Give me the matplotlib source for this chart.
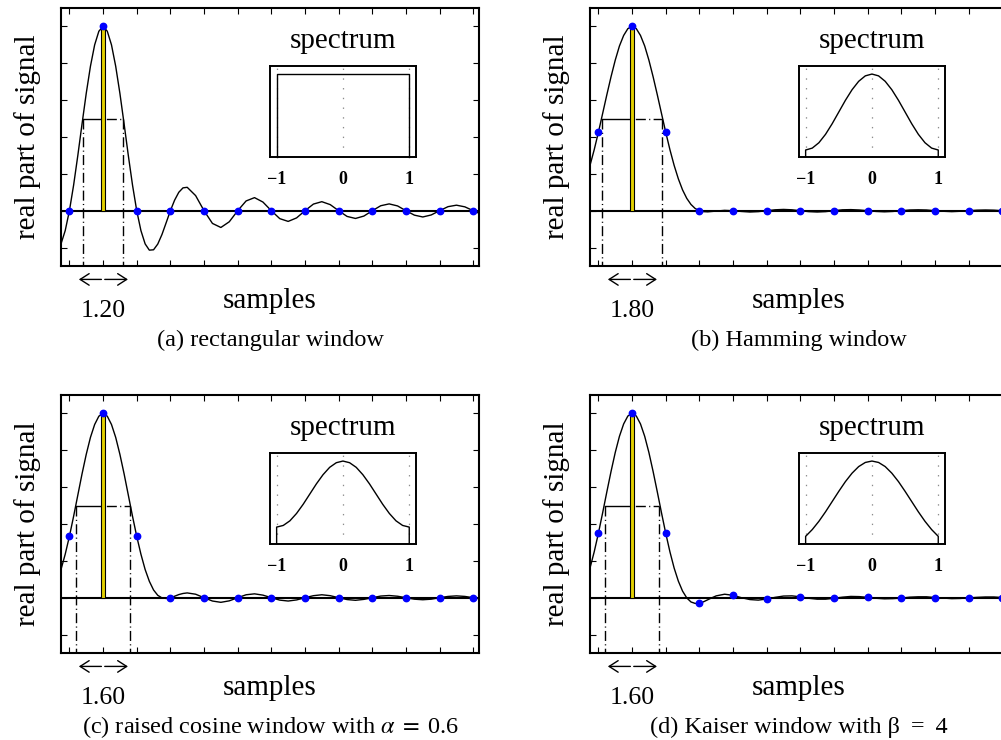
"""Windowed sinc pulses: time signal + spectrum inset for four windows."""

import matplotlib

matplotlib.use("Agg")  # headless
import matplotlib.pyplot as plt
from matplotlib.transforms import blended_transform_factory

plt.rcParams["font.family"] = ["Liberation Serif", "DejaVu Serif"]
plt.rcParams["mathtext.fontset"] = "stix"
plt.rcParams["lines.scale_dashes"] = False

# time axis of the drawn curves (in samples)
t = [-1.25, -1.125, -1.0, -0.875, -0.75, -0.625, -0.5, -0.375, -0.25, -0.125,
     0.0, 0.125, 0.25, 0.375, 0.5, 0.625, 0.75, 0.875, 1.0, 1.125, 1.25, 1.375,
     1.5, 1.625, 1.75, 1.875, 2.0, 2.125, 2.25, 2.375, 2.5, 2.75, 3.0, 3.25,
     3.5, 3.75, 4.0, 4.25, 4.5, 4.75, 5.0, 5.25, 5.5, 5.75, 6.0, 6.25, 6.5,
     6.75, 7.0, 7.25, 7.5, 7.75, 8.0, 8.25, 8.5, 8.75, 9.0, 9.25, 9.5, 9.75,
     10.0, 10.25, 10.5, 10.75, 11.0, 11.25]

rect_curve = [-0.180, -0.108, 0.000, 0.139, 0.300, 0.471, 0.637, 0.784, 0.900, 0.974,
              1.000, 0.974, 0.900, 0.784, 0.637, 0.471, 0.300, 0.139, 0.000, -0.108,
              -0.180, -0.214, -0.212, -0.181, -0.129, -0.065, 0.000, 0.057, 0.100, 0.124,
              0.127, 0.082, 0.000, -0.069, -0.091, -0.060, 0.000, 0.053, 0.071, 0.047,
              0.000, -0.043, -0.058, -0.039, 0.000, 0.036, 0.049, 0.033, 0.000, -0.031,
              -0.042, -0.029, 0.000, 0.027, 0.037, 0.026, 0.000, -0.024, -0.034, -0.023,
              0.000, 0.022, 0.030, 0.021, 0.000, -0.020]
hamming_curve = [0.246, 0.331, 0.426, 0.527, 0.629, 0.727, 0.817, 0.894, 0.951, 0.988,
                 1.000, 0.988, 0.951, 0.894, 0.817, 0.727, 0.629, 0.527, 0.426, 0.331,
                 0.246, 0.173, 0.113, 0.067, 0.034, 0.012, 0.000, -0.005, -0.006, -0.004,
                 -0.002, 0.002, 0.000, -0.004, -0.007, -0.005, 0.000, 0.005, 0.007, 0.005,
                 0.000, -0.005, -0.007, -0.005, 0.000, 0.005, 0.006, 0.004, 0.000, -0.004,
                 -0.006, -0.004, 0.000, 0.004, 0.005, 0.004, 0.000, -0.003, -0.005, -0.003,
                 0.000, 0.003, 0.004, 0.003, 0.000, -0.003]
raised_curve = [0.153, 0.236, 0.333, 0.442, 0.557, 0.672, 0.778, 0.870, 0.940, 0.985,
                1.000, 0.985, 0.940, 0.870, 0.778, 0.672, 0.557, 0.442, 0.333, 0.236,
                0.153, 0.089, 0.042, 0.013, -0.001, -0.004, 0.000, 0.008, 0.017, 0.023,
                0.026, 0.019, 0.000, -0.018, -0.025, -0.017, 0.000, 0.016, 0.021, 0.014,
                0.000, -0.013, -0.018, -0.012, 0.000, 0.011, 0.016, 0.011, 0.000, -0.010,
                -0.014, -0.009, 0.000, 0.009, 0.012, 0.008, 0.000, -0.008, -0.011, -0.008,
                0.000, 0.007, 0.010, 0.007, 0.000, -0.007]
kaiser_curve = [0.161, 0.249, 0.350, 0.460, 0.574, 0.685, 0.788, 0.876, 0.943, 0.986,
                1.000, 0.986, 0.943, 0.876, 0.788, 0.685, 0.574, 0.460, 0.350, 0.249,
                0.161, 0.090, 0.036, -0.001, -0.023, -0.031, -0.030, -0.022, -0.011, 0.000,
                0.010, 0.019, 0.013, 0.000, -0.010, -0.013, -0.007, 0.002, 0.009, 0.010,
                0.005, -0.003, -0.008, -0.008, -0.003, 0.003, 0.007, 0.006, 0.002, -0.003,
                -0.006, -0.005, -0.002, 0.003, 0.005, 0.005, 0.001, -0.002, -0.005, -0.004,
                -0.001, 0.002, 0.004, 0.004, 0.001, -0.002]

# sampled values (blue dots)
samples = [-1, 0, 1, 2, 3, 4, 5, 6, 7, 8, 9, 10, 11]
rect_dots = [0.0, 1.0, 0.0, 0.0, 0.0, 0.0, 0.0, 0.0, 0.0, 0.0, 0.0, 0.0, 0.0]
hamming_dots = [0.426, 1.0, 0.426, 0.0, 0.0, 0.0, 0.0, 0.0, 0.0, 0.0, 0.0, 0.0, 0.0]
raised_dots = [0.333, 1.0, 0.333, 0.0, 0.0, 0.0, 0.0, 0.0, 0.0, 0.0, 0.0, 0.0, 0.0]
kaiser_dots = [0.350, 1.0, 0.350, -0.030, 0.013, -0.007, 0.005, -0.003, 0.002,
               -0.002, 0.001, -0.001, 0.001]

# spectrum insets
freq = [-1.0, -0.9, -0.8, -0.7, -0.6, -0.5, -0.4, -0.3, -0.2, -0.1, 0.0,
        0.1, 0.2, 0.3, 0.4, 0.5, 0.6, 0.7, 0.8, 0.9, 1.0]
rect_spec = [1.0] * 21
hamming_spec = [0.080, 0.103, 0.168, 0.270, 0.398, 0.540, 0.682, 0.810, 0.912, 0.978, 1.000,
                0.978, 0.912, 0.810, 0.682, 0.540, 0.398, 0.270, 0.168, 0.103, 0.080]
raised_spec = [0.200, 0.220, 0.276, 0.365, 0.476, 0.600, 0.724, 0.835, 0.924, 0.980, 1.000,
               0.980, 0.924, 0.835, 0.724, 0.600, 0.476, 0.365, 0.276, 0.220, 0.200]
kaiser_spec = [0.088, 0.170, 0.270, 0.385, 0.509, 0.633, 0.751, 0.853, 0.933, 0.983, 1.000,
               0.983, 0.933, 0.853, 0.751, 0.633, 0.509, 0.385, 0.270, 0.170, 0.088]

half_widths = [1.20, 1.80, 1.60, 1.60]
captions = [
    "(a) rectangular window",
    "(b) Hamming window",
    r"(c) raised cosine window with $\alpha\;=\;$0.6",
    "(d) Kaiser window with \u03b2 \u2009=\u2009 4",
]

W, H = 1001, 740
YELLOW = "#e2d000"
DASHDOT = (0, (7.2, 2.4, 0.8, 2.4))


def draw_panel(fig, left_px, top_px, curve, dots, spec, width, caption):
    ax = fig.add_axes([left_px / W, 1 - (top_px + 258) / H, 418 / W, 258 / H])
    ax.set_xlim(-1.25, 11.17)
    ax.set_ylim(-0.3, 1.1)

    ax.axhline(0, color="k", lw=1.5, zorder=2)
    ax.plot(t, curve, color="k", lw=1.0, zorder=3)

    half = width / 2
    ax.plot([-half, 0], [0.5, 0.5], color="k", lw=1.0, zorder=3)
    ax.plot([0, half], [0.5, 0.5], color="k", lw=1.0, zorder=3,
            linestyle=(10.4, (7.2, 2.4, 0.8, 2.4)))
    for x in (-half, half):
        ax.plot([x, x], [0.5, -0.3], color="k", lw=1.0, linestyle=DASHDOT, zorder=3)

    ax.bar(0, 1.0, width=0.12, color=YELLOW, edgecolor="k", linewidth=0.8, zorder=4)
    ax.plot(samples, dots, "o", color="#0000ff", ms=4.6, zorder=5)

    ax.set_xticks(samples)
    ax.set_yticks([-0.2, 0.0, 0.2, 0.4, 0.6, 0.8, 1.0])
    ax.tick_params(direction="in", length=4, width=0.8, top=True, right=True,
                   labelbottom=False, labelleft=False)
    for s in ax.spines.values():
        s.set_linewidth(1.5)

    # width arrow + label under the pulse
    tr = blended_transform_factory(ax.transData, ax.transAxes)
    style = "->,head_length=0.5,head_width=0.32"
    for a, b in ((-0.05, -0.72), (0.05, 0.74)):
        ax.annotate("", xy=(b, -0.052), xytext=(a, -0.052), xycoords=tr, textcoords=tr,
                    arrowprops=dict(arrowstyle=style, lw=1.0, color="k",
                                    shrinkA=0, shrinkB=0, mutation_scale=13),
                    annotation_clip=False)
    ax.text(0, -0.196, f"{width:.2f}", transform=tr, ha="center", va="baseline",
            fontsize=18.5)
    ax.text(0.5, -0.163, "samples", transform=ax.transAxes, ha="center",
            va="baseline", fontsize=21)
    ax.text(-0.079, 0.5, "real part of signal", transform=ax.transAxes, rotation=90,
            ha="center", va="center", fontsize=21)

    # spectrum inset
    ins = ax.inset_axes([0.5, 0.424, 0.349, 0.352])
    ins.plot([-1.0] + freq + [1.0], [0.0] + spec + [0.0], color="k", lw=1.0,
             clip_on=False, zorder=3)
    ins.set_xlim(-1.1, 1.1)
    ins.set_ylim(0, 1.1)
    ins.set_xticks([-1, 0, 1])
    ins.set_xticklabels(["\u22121", "0", "1"], fontweight="bold", fontsize=13)
    ins.set_yticks([])
    ins.tick_params(length=0, pad=10.5)
    ins.grid(axis="x", color="0.55", linestyle=(0, (1, 6)), lw=0.9)
    for s in ins.spines.values():
        s.set_linewidth(1.4)
    ins.text(0.5, 1.195, "spectrum", transform=ins.transAxes, ha="center",
             va="baseline", fontsize=21)

    fig.text((left_px + 209) / W, 1 - (top_px + 332) / H, caption, ha="center",
             va="center", fontsize=17.5)


fig = plt.figure(figsize=(W / 100, H / 100), dpi=100)
panels = [
    (61, 8, rect_curve, rect_dots, rect_spec),
    (590, 8, hamming_curve, hamming_dots, hamming_spec),
    (61, 395, raised_curve, raised_dots, raised_spec),
    (590, 395, kaiser_curve, kaiser_dots, kaiser_spec),
]
for (lx, ty, curve, dots, spec), w, cap in zip(panels, half_widths, captions):
    draw_panel(fig, lx, ty, curve, dots, spec, w, cap)

fig.savefig("out.png", dpi=100)
